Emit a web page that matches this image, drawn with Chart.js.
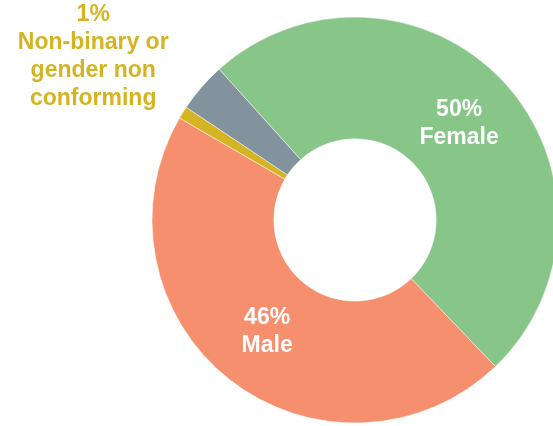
<!DOCTYPE html>
<html>
<head>
<meta charset="utf-8">
<style>
  html, body { margin: 0; padding: 0; background: #fff; overflow: hidden; }
  #chartContainer { width: 553px; height: 426px; }
</style>
</head>
<body>
<div id="chartContainer">
    <canvas id="myChart" width="553" height="426"></canvas>
</div>

<script src="https://cdn.jsdelivr.net/npm/chart.js"></script>
<script>
    // data
    const categories = ['Female', 'Male', 'Non-binary or gender non conforming', 'Prefer not to say'];
    const shares = [50, 46, 1, 4];
    const sliceColors = ['#88c589', '#f58f6d', '#d4b423', '#82939d'];
    // how each label is broken into lines (null = no label drawn)
    const labelLines = [['Female'], ['Male'], ['Non-binary or', 'gender non', 'conforming'], null];
    const labelOutside = [false, false, true, false];
    const labelColors = ['#ffffff', '#ffffff', '#d4b423', null];

    const sliceLabels = {
        id: 'sliceLabels',
        afterDatasetsDraw(chart) {
            const ctx = chart.ctx;
            const meta = chart.getDatasetMeta(0);
            const lineHeight = 28;
            ctx.save();
            ctx.font = 'bold 23px "Liberation Sans", Arial, sans-serif';
            ctx.textAlign = 'center';
            ctx.textBaseline = 'middle';
            meta.data.forEach((arc, i) => {
                if (!labelLines[i]) return;
                const p = arc.getProps(['x', 'y', 'startAngle', 'endAngle', 'innerRadius', 'outerRadius'], true);
                const mid = (p.startAngle + p.endAngle) / 2;
                const r = labelOutside[i] ? p.outerRadius * 1.52 : (p.innerRadius + p.outerRadius) / 2;
                const cx = p.x + Math.cos(mid) * r;
                const cy = p.y + Math.sin(mid) * r;
                const lines = [shares[i] + '%'].concat(labelLines[i]);
                const top = cy - (lines.length - 1) * lineHeight / 2;
                ctx.fillStyle = labelColors[i];
                lines.forEach((t, k) => ctx.fillText(t, cx, top + k * lineHeight));
            });
            ctx.restore();
        }
    };

    const ctx = document.getElementById('myChart').getContext('2d');
    new Chart(ctx, {
        type: 'doughnut',
        data: {
            labels: categories,
            datasets: [{
                data: shares,
                backgroundColor: sliceColors,
                borderColor: '#ffffff',
                borderWidth: 0.5
            }]
        },
        options: {
            responsive: false,
            animation: false,
            rotation: -42,
            radius: 203,
            cutout: '40%',
            layout: { padding: { left: 157, right: 0, top: 14, bottom: 0 } },
            plugins: {
                legend: { display: false },
                tooltip: { enabled: false }
            }
        },
        plugins: [sliceLabels]
    });
</script>
</body>
</html>
